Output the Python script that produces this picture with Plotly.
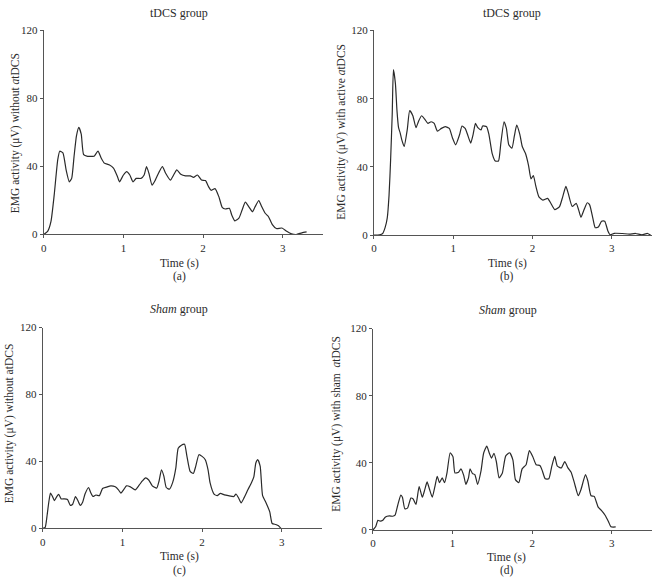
import plotly.graph_objects as go

# ---------------- data ----------------
t_a = [0, 0.05, 0.09, 0.13, 0.175, 0.2, 0.24, 0.28, 0.32, 0.35, 0.38, 0.41, 0.44, 0.47, 0.5,
       0.55, 0.59, 0.63, 0.68, 0.72, 0.76, 0.82, 0.875, 0.925, 0.95, 1.0, 1.04, 1.08, 1.12,
       1.16, 1.22, 1.26, 1.29, 1.32, 1.36, 1.40, 1.45, 1.49, 1.53, 1.59, 1.63, 1.67, 1.72,
       1.78, 1.84, 1.88, 1.93, 1.98, 2.03, 2.07, 2.1, 2.15, 2.2, 2.24, 2.28, 2.33, 2.36, 2.4,
       2.45, 2.49, 2.53, 2.58, 2.62, 2.65, 2.7, 2.73, 2.78, 2.82, 2.87, 2.92, 2.99, 3.05,
       3.11, 3.17, 3.24, 3.3]
emg_a = [0, 2, 7.7, 23, 44, 49, 48, 38, 31, 33, 46, 58, 63, 59, 47,
         46, 46, 46, 49, 45, 42, 41, 39, 34, 31, 35, 37, 35, 31,
         33, 33, 35, 40, 36, 29, 32, 37, 40, 36, 32, 35, 38, 35.5,
         34.5, 34.5, 33.6, 35, 32, 31.7, 28, 26, 27, 22, 16, 15, 15.4, 11.5, 8,
         9.6, 14.4, 19, 16, 13.4, 16, 20, 17, 12.5, 10.6, 5.8, 3.5, 3.8, 1.9,
         0.4, 0, 1, 1.5]

t_b = [0, 0.07, 0.11, 0.14, 0.167, 0.19, 0.21, 0.23, 0.245, 0.27, 0.29, 0.31, 0.33, 0.35,
       0.38, 0.42, 0.45, 0.49, 0.53, 0.56, 0.6, 0.64, 0.68, 0.72, 0.76, 0.8, 0.85, 0.9,
       0.95, 0.99, 1.03, 1.08, 1.11, 1.15, 1.18, 1.22, 1.25, 1.28, 1.31, 1.35, 1.37, 1.42,
       1.45, 1.49, 1.53, 1.57, 1.6, 1.64, 1.67, 1.7, 1.74, 1.77, 1.8, 1.84, 1.87, 1.91,
       1.95, 1.98, 2.01, 2.04, 2.08, 2.13, 2.19, 2.23, 2.28, 2.34, 2.38, 2.42, 2.45, 2.5,
       2.55, 2.58, 2.61, 2.65, 2.69, 2.72, 2.76, 2.79, 2.83, 2.87, 2.91, 2.95, 2.98, 3.03,
       3.13, 3.22, 3.3, 3.38, 3.45, 3.49]
emg_b = [0, 0.2, 1, 4.4, 10, 23.5, 44.5, 71, 97, 89, 73, 63, 60, 56,
         52, 62, 73, 70, 63, 66.5, 70, 68, 65.5, 66.5, 65.5, 61, 62.6, 63.6,
         62.6, 57, 53, 59, 64, 62.6, 59, 54, 59, 65.5, 63, 61.7, 64, 63.6,
         59, 48, 43.5, 43.5, 54, 66.5, 62.6, 53, 51, 58, 64.5, 59, 52, 48,
         40.7, 33, 35, 29, 22.5, 20.6, 21.6, 18.7, 15, 16.8, 22.5, 28.6, 24.5, 16.8,
         18.7, 15, 10.5, 15, 19, 17.8, 10, 4.4, 4.8, 8.2, 8.2, 2.5, 0.2, 1.1,
         1, 0.6, 1, 0.2, 1, 0]

t_c = [0, 0.03, 0.054, 0.075, 0.096, 0.117, 0.146, 0.175, 0.2, 0.23, 0.27, 0.31, 0.346,
       0.375, 0.41, 0.44, 0.47, 0.5, 0.53, 0.575, 0.6, 0.63, 0.667, 0.71, 0.75, 0.8,
       0.854, 0.91, 0.95, 0.98, 1.02, 1.05, 1.1, 1.16, 1.21, 1.25, 1.29, 1.33, 1.375,
       1.43, 1.46, 1.49, 1.52, 1.55, 1.59, 1.63, 1.67, 1.7, 1.74, 1.78, 1.81, 1.85, 1.89,
       1.92, 1.96, 2.0, 2.04, 2.075, 2.1, 2.15, 2.19, 2.23, 2.28, 2.33, 2.4, 2.425, 2.46,
       2.49, 2.53, 2.575, 2.62, 2.65, 2.675, 2.7, 2.73, 2.76, 2.8, 2.85, 2.88, 2.925,
       2.96, 2.99]
emg_c = [0, 0.6, 7.8, 15.6, 21, 19.5, 16.6, 19, 20.3, 17.6, 17.6, 17.2, 13.7,
         14.4, 19, 16.6, 13.7, 15.6, 20.5, 24.4, 21.5, 19, 19.9, 19.5, 23.8, 24.6,
         25.4, 24.8, 23, 21, 23.4, 25.4, 24.8, 23, 25.8, 28.3, 30.2, 28.9, 25.4,
         24, 28.3, 35, 31.2, 24.4, 23.4, 27.3, 36, 47.8, 49.7, 50.3, 43, 34, 32.8,
         37, 44, 43, 41, 35, 27.3, 20.5, 19.5, 20.9, 20, 19.5, 19, 20.5, 18,
         15.2, 18.5, 23, 27.3, 30.8, 39, 41, 37, 19.5, 15.6, 9.8, 2.9, 2.3,
         1.6, 0]

t_d = [0, 0.033, 0.062, 0.09, 0.124, 0.157, 0.207, 0.248, 0.277, 0.31, 0.35, 0.37, 0.4,
       0.434, 0.476, 0.505, 0.54, 0.58, 0.62, 0.65, 0.68, 0.71, 0.745, 0.78, 0.807,
       0.836, 0.87, 0.9, 0.93, 0.97, 1.005, 1.03, 1.076, 1.105, 1.14, 1.167, 1.2, 1.22,
       1.25, 1.28, 1.315, 1.357, 1.39, 1.43, 1.46, 1.49, 1.52, 1.55, 1.585, 1.626,
       1.667, 1.717, 1.758, 1.79, 1.833, 1.874, 1.924, 1.965, 2.007, 2.05, 2.1, 2.13,
       2.164, 2.21, 2.247, 2.284, 2.317, 2.367, 2.41, 2.45, 2.49, 2.53, 2.58, 2.615,
       2.67, 2.7, 2.74, 2.78, 2.83, 2.87, 2.917, 2.96, 2.99, 3.05]
emg_d = [0, 1.9, 5.8, 5.3, 5.8, 7.8, 8.4, 8.2, 8.8, 14.6, 20.8, 19.5, 12.6,
         13, 19, 18.5, 15.2, 25.9, 19.5, 23.9, 28.6, 24.3, 19.5, 26.3, 32,
         28.2, 31, 28.2, 34, 46, 43.7, 34, 34.4, 36.4, 32.5, 27.2, 31, 36.4,
         33.6, 33, 27.2, 35, 45.7, 50, 46, 42.8, 45.7, 40.8, 31, 34,
         44, 46, 41.8, 30, 28.2, 36.4, 38.9, 47.3, 43.8, 38.9, 38.3, 35,
         30.5, 30.5, 38, 43.8, 38, 37, 40.8, 37, 34.4, 28.2, 20.4, 24.3,
         33, 29.2, 20.4, 20, 13.6, 11.7, 8.8, 4.9, 1.9, 1.8]

x_ticks = [0, 1, 2, 3]
y_ticks = [0, 40, 80, 120]
panel_titles = ["tDCS group", "tDCS group", "<i>Sham</i> group", "<i>Sham</i> group"]
y_titles = ["EMG activity (μV) without <i>a</i>tDCS",
            "EMG activity (μV) with active <i>a</i>tDCS",
            "EMG activity (μV) without atDCS",
            "EMG activity (μV) with sham  <i>a</i>tDCS"]
x_title = "Time (s)"
panel_letters = ["(a)", "(b)", "(c)", "(d)"]

# ---------------- layout geometry (pixels) ----------------
W, H = 652, 583
FONT = "Liberation Serif"
TXT = "#2b2b2b"
AX = "#555555"

# (x0px, x_end_px, y0px (value 0), y120px)
panels = [
    (41, 321, 233.3, 25),
    (372.7, 651.5, 234, 25),
    (40, 320, 533.3, 328.3),
    (371.7, 651.5, 535, 329.3),
]
title_pos = [(177, 7), (511.7, 7), (177, 309), (507.7, 310)]
xt_pos = [(177, 263), (506.7, 263), (177, 562), (506, 563)]
let_pos = [(177, 276), (506.7, 276), (177, 576), (506, 576)]
yt_pos = [(12, 130), (340, 128), (6, 426), (335, 427)]

def px(x):
    return x / W

def py(y):
    return 1 - y / H

fig = go.Figure()
series = [(t_a, emg_a), (t_b, emg_b), (t_c, emg_c), (t_d, emg_d)]
annotations = []
for i, ((t, v), (x0, x1, y0, y1)) in enumerate(zip(series, panels)):
    n = "" if i == 0 else str(i + 1)
    fig.add_trace(go.Scatter(x=t, y=v, mode="lines",
                             line=dict(color="#2a2a2a", width=1.2, shape="spline", smoothing=0.5),
                             xaxis="x" + n, yaxis="y" + n, showlegend=False,
                             hoverinfo="skip"))
    common = dict(showline=True, linecolor=AX, linewidth=1, ticks="outside", ticklen=3,
                  tickcolor=AX, tickwidth=1, showgrid=False, zeroline=False,
                  tickfont=dict(family=FONT, size=11, color=TXT), fixedrange=True)
    fig.layout["xaxis" + n] = dict(domain=[px(x0), px(x1)], range=[0, 3.5],
                                   tickvals=x_ticks, anchor="y" + n, **common)
    fig.layout["yaxis" + n] = dict(domain=[py(y0), py(y1)], range=[0, 120],
                                   tickvals=y_ticks, anchor="x" + n, **common)
    for (xx, yy), txt, ang, fs in [(title_pos[i], panel_titles[i], 0, 12),
                                   (xt_pos[i], x_title, 0, 11.5),
                                   (let_pos[i], panel_letters[i], 0, 11.5),
                                   (yt_pos[i], y_titles[i], -90, 11.5)]:
        annotations.append(dict(x=px(xx), y=py(yy), xref="paper", yref="paper",
                                text=txt, showarrow=False, textangle=ang,
                                xanchor="center", yanchor="middle",
                                font=dict(family=FONT, size=fs, color=TXT)))

fig.update_layout(width=W, height=H, margin=dict(l=0, r=0, t=0, b=0),
                  paper_bgcolor="white", plot_bgcolor="white",
                  annotations=annotations)
fig.write_html("out.html")
